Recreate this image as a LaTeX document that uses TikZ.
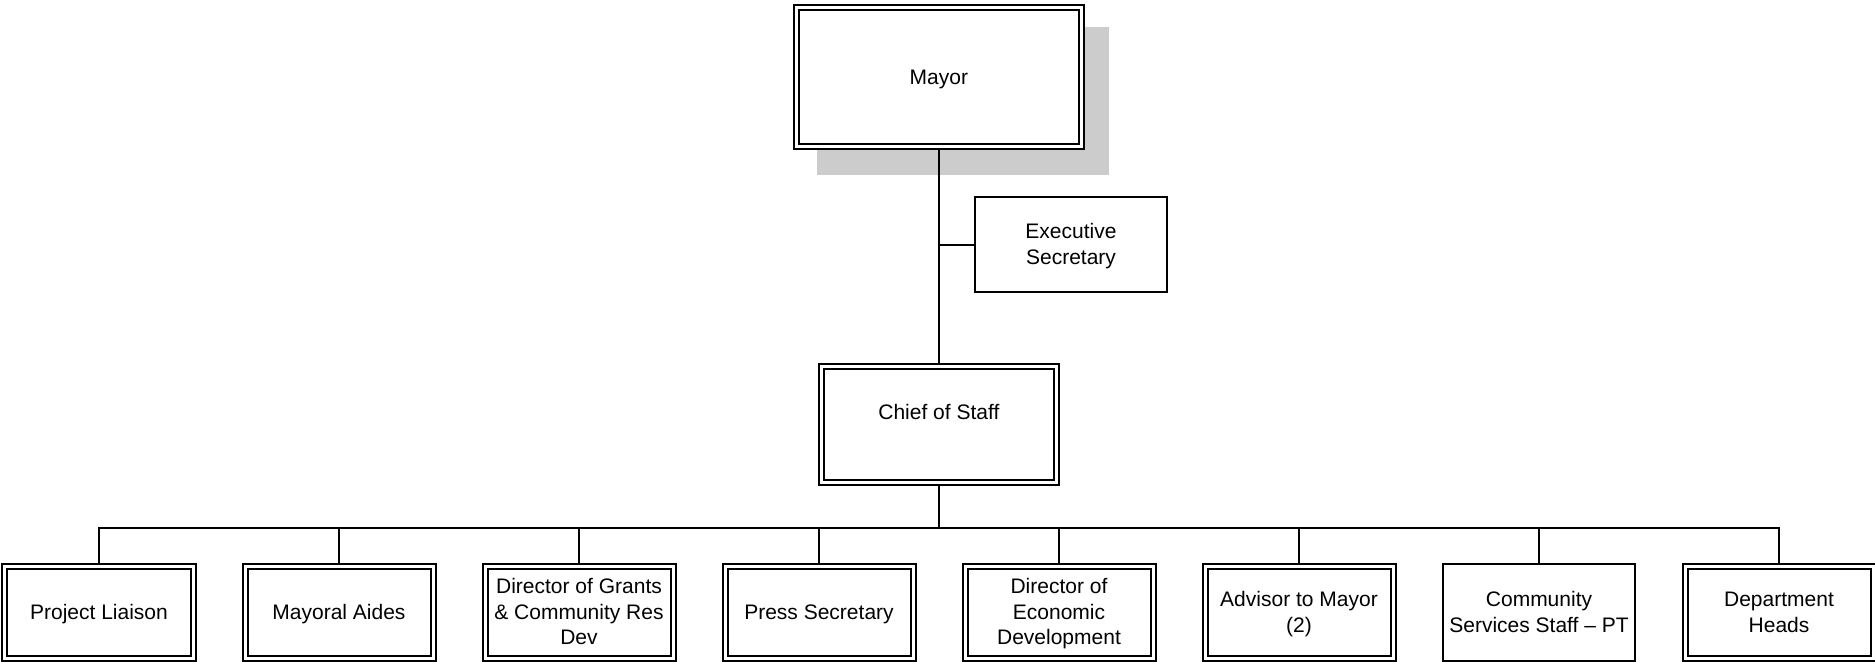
\documentclass[tikz,border=0pt]{standalone}
\usepackage{fontspec}
\setmainfont{Liberation Sans}
\usetikzlibrary{backgrounds,calc}
% centred label, set a little below the geometric middle of its box
\newcommand{\boxtext}[1]{\raisebox{-2bp}[\height][\depth]{\begin{tabular}{@{}c@{}}#1\end{tabular}}}
\begin{document}
\begin{tikzpicture}[x=1bp,y=-1bp,
  every node/.style={font=\fontsize{21bp}{25.5bp}\selectfont, align=center, inner sep=0pt},
  box/.style={draw=black, fill=white, line width=2bp, rectangle},
  dbox/.style={box, double=white, double distance=3bp},
  lowbox/.style={dbox, minimum width=188bp, minimum height=92.3bp},
  lowsingle/.style={box, minimum width=192.6bp, minimum height=96.4bp},
  link/.style={draw=black, line width=2bp},
  shade/.style={fill=black!20}
]
\useasboundingbox (0,0) rectangle (1875,662);

% top of the chart
\node[dbox, minimum width=284.7bp, minimum height=139bp] (mayor) at (938.85,77) {\boxtext{Mayor}};
\node[box, minimum width=192bp, minimum height=95bp] (exec) at (1071,244.5) {\boxtext{Executive\\Secretary}};
\node[dbox, minimum width=235.7bp, minimum height=115.7bp] (chief) at (938.85,424.3) {Chief of Staff\\\mbox{}};

% lower row
\node[lowbox]    (liaison)  at (99,612.2)   {\boxtext{Project Liaison}};
\node[lowbox]    (aides)    at (339,612.2)  {\boxtext{Mayoral Aides}};
\node[lowbox]    (grants)   at (579,612.2)  {\boxtext{Director of Grants\\\& Community Res\\Dev}};
\node[lowbox]    (press)    at (819,612.2)  {\boxtext{Press Secretary}};
\node[lowbox]    (econ)     at (1059,612.2) {\boxtext{Director of\\Economic\\Development}};
\node[lowbox]    (advisor)  at (1299,612.2) {\boxtext{Advisor to Mayor\\(2)}};
\node[lowsingle] (commserv) at (1539,612.5) {\boxtext{Community\\Services Staff -- PT}};
\node[lowbox]    (depts)    at (1779,612.2) {\boxtext{Department\\Heads}};

\coordinate (bus) at (938.85,528);

\begin{scope}[on background layer]
  % shadow behind the mayor box
  \path[shade] ($(mayor.north west)+(21.2,20.2)$) rectangle ($(mayor.south east)+(26.8,27.5)$);
  % reporting lines
  \path[link] (mayor.south) -- (chief.north);
  \path[link] (mayor.south |- exec.west) -- (exec.west);
  \path[link] (chief.south) -- (bus);
  \foreach \n in {liaison,aides,grants,press,econ,advisor,commserv,depts}
    \path[link] (bus) -| (\n.north);
\end{scope}
\end{tikzpicture}
\end{document}
